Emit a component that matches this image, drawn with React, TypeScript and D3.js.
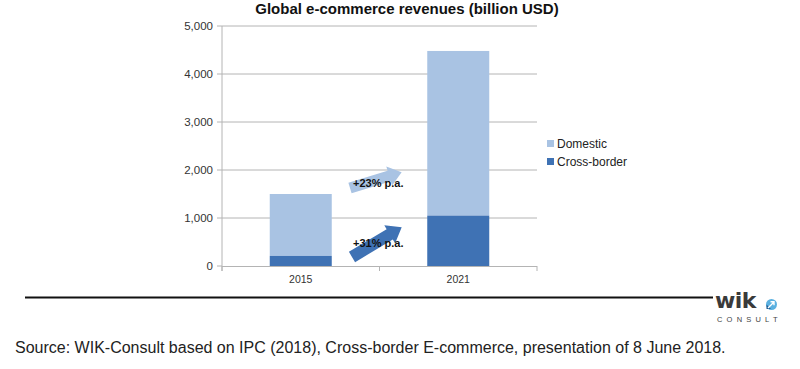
import React from 'react';
import * as d3 from 'd3';

const years = ['2015', '2021'];
const domestic = [1290, 3430];
const crossBorder = [210, 1050];
const yTicks = [0, 1000, 2000, 3000, 4000, 5000];
const seriesNames = ['Domestic', 'Cross-border'];
const growthLabels = ['+23% p.a.', '+31% p.a.'];

const width = 800;
const height = 369;
const left = 222;
const right = 537;
const top = 26;
const bottom = 266;

const lightBlue = '#a9c3e3';
const darkBlue = '#3f72b4';

// arrow polygon along +x, then rotated into place
const arrowPath = (len: number, shaft: number, head: number, headLen: number) => {
  const s = shaft / 2;
  const h = head / 2;
  return `M0,${-s} L${len - headLen},${-s} L${len - headLen},${-h} L${len},0 L${len - headLen},${h} L${len - headLen},${s} L0,${s} Z`;
};

export default function App() {
  const x = d3.scaleBand().domain(years).range([left, right]).paddingInner(0).paddingOuter(0);
  const y = d3.scaleLinear().domain([0, 5000]).range([bottom, top]);
  const barW = 62;

  const stacked = years.map((yr, i) => ({
    yr,
    cross: crossBorder[i],
    total: crossBorder[i] + domestic[i],
  }));

  const fmt = d3.format(',');

  return (
    <svg width={width} height={height} style={{ position: 'absolute', left: 0, top: 0 }}
      fontFamily="Arial, 'Liberation Sans', sans-serif">
      <rect width={width} height={height} fill="#fff" />
      <text x={407} y={14} textAnchor="middle" fontSize={15} fontWeight="bold" fill="#111">
        Global e-commerce revenues (billion USD)
      </text>

      {yTicks.map((t) => (
        <g key={t}>
          {t > 0 && <line x1={left} x2={right} y1={y(t)} y2={y(t)} stroke="#b4b4b4" strokeWidth={1} />}
          <line x1={left - 5} x2={left} y1={y(t)} y2={y(t)} stroke="#b4b4b4" />
          <text x={213} y={y(t) + 4} textAnchor="end" fontSize={11.5} fill="#333">{fmt(t)}</text>
        </g>
      ))}

      {stacked.map((d) => {
        const bx = (x(d.yr) as number) + x.bandwidth() / 2 - barW / 2;
        return (
          <g key={d.yr}>
            <rect x={bx} y={y(d.total)} width={barW} height={y(d.cross) - y(d.total)} fill={lightBlue} />
            <rect x={bx} y={y(d.cross)} width={barW} height={bottom - y(d.cross)} fill={darkBlue} />
            <text x={(x(d.yr) as number) + x.bandwidth() / 2} y={283} textAnchor="middle" fontSize={10.5} fill="#333">
              {d.yr}
            </text>
          </g>
        );
      })}

      <line x1={left} x2={left} y1={top} y2={bottom + 5} stroke="#b4b4b4" />
      <line x1={left} x2={right} y1={bottom + 0.5} y2={bottom + 0.5} stroke="#b4b4b4" />
      {[left, left + x.bandwidth(), right].map((tx) => (
        <line key={tx} x1={tx} x2={tx} y1={bottom} y2={bottom + 5} stroke="#b4b4b4" />
      ))}

      <path d={arrowPath(54, 11, 20, 13)} fill={lightBlue} transform="translate(350,188) rotate(-17)" />
      <path d={arrowPath(58, 12, 21, 14)} fill={darkBlue} transform="translate(352,257) rotate(-31)" />
      <text x={353} y={187} fontSize={11} fontWeight="bold" fill="#111">{growthLabels[0]}</text>
      <text x={353} y={247} fontSize={11} fontWeight="bold" fill="#111">{growthLabels[1]}</text>

      {seriesNames.map((n, i) => (
        <g key={n}>
          <rect x={547} y={140 + i * 18} width={7} height={7} fill={i === 0 ? lightBlue : darkBlue} />
          <text x={557} y={148 + i * 18} fontSize={12} fill="#222">{n}</text>
        </g>
      ))}

      <line x1={25} x2={713} y1={297.5} y2={297.5} stroke="#111" strokeWidth={2} />
      <text x={715} y={308} fontSize={22} fontWeight="bold" fill="#3a3a3a"
        fontFamily="'DejaVu Sans', sans-serif" letterSpacing={-0.6}>wik</text>
      <circle cx={771.5} cy={304.5} r={5.5} fill="#5ab0e0" />
      <path d="M766.5,309 L771,309 L766.5,304.5 Z" fill="#1f5f96" />
      <path d="M768,308 L774,302 M770.5,301.8 L774,301.8 L774,305.3" stroke="#fff" strokeWidth={1.4} fill="none" />
      <text x={717} y={322} fontSize={7.5} fill="#444" letterSpacing={4.2}>CONSULT</text>

      <text x={15} y={353} fontSize={16} fill="#222">
        Source: WIK-Consult based on IPC (2018), Cross-border E-commerce, presentation of 8 June 2018.
      </text>
    </svg>
  );
}
